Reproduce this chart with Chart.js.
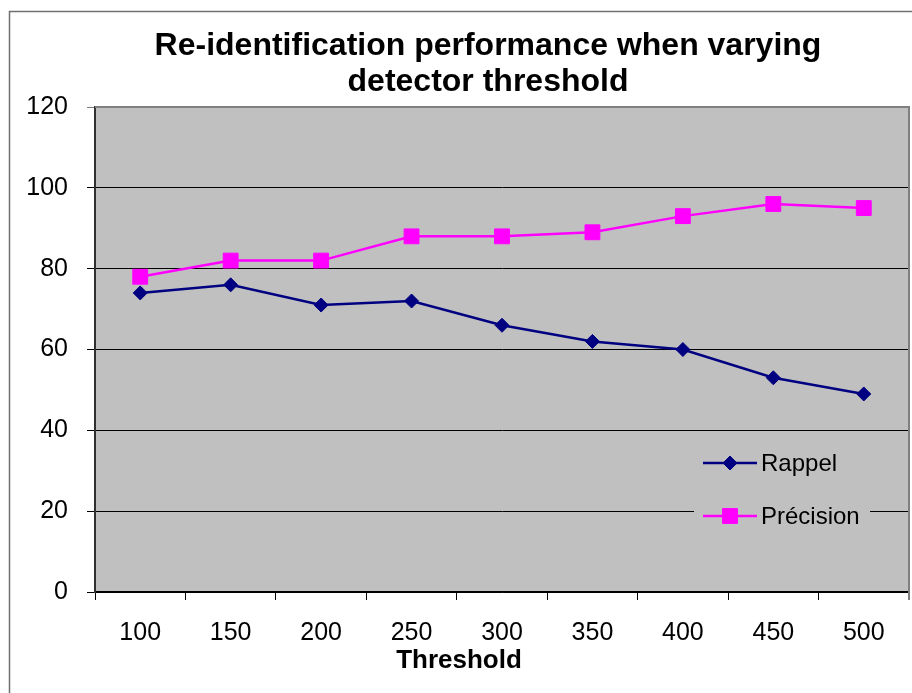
<!DOCTYPE html>
<html>
<head>
<meta charset="utf-8">
<script src="https://cdn.jsdelivr.net/npm/chart.js@4.4.1/dist/chart.umd.min.js"></script>
<style>
  html, body { margin: 0; padding: 0; background: #fff; }
  #wrap { width: 912px; height: 693px; }
</style>
</head>
<body>
<div id="wrap"><canvas id="chart" width="912" height="693"></canvas></div>
<script>
const thresholds = ['100', '150', '200', '250', '300', '350', '400', '450', '500'];
const rappel = [74, 76, 71, 72, 66, 62, 60, 53, 49];
const precision = [78, 82, 82, 88, 88, 89, 93, 96, 95];
const titleLines = ['Re-identification performance when varying', 'detector threshold'];
const xTitle = 'Threshold';

const FONT = "'Liberation Sans', Arial, Helvetica, sans-serif";
const PLOT_BG = '#c0c0c0';

// white page, outer frame, grey plot area
const backdrop = {
  id: 'backdrop',
  beforeDraw(chart) {
    const { ctx, chartArea: a } = chart;
    ctx.save();
    ctx.fillStyle = '#fff';
    ctx.fillRect(0, 0, chart.width, chart.height);
    ctx.strokeStyle = '#707070';
    ctx.lineWidth = 1.5;
    ctx.strokeRect(9.5, 11.5, chart.width + 10, chart.height + 10);
    ctx.fillStyle = PLOT_BG;
    ctx.fillRect(a.left, a.top, a.right - a.left, a.bottom - a.top);
    ctx.restore();
  },
  beforeDatasetsDraw(chart) {
    const { ctx, chartArea: a } = chart;
    ctx.save();
    ctx.strokeStyle = '#808080';
    ctx.lineWidth = 2;
    ctx.beginPath();
    ctx.moveTo(a.left, a.top);
    ctx.lineTo(a.right, a.top);
    ctx.lineTo(a.right, a.bottom + 8);
    ctx.stroke();
    ctx.restore();
  }
};

// titles and legend placed like the original
const texts = {
  id: 'texts',
  afterDraw(chart) {
    const { ctx } = chart;
    ctx.save();
    ctx.fillStyle = '#000';
    ctx.textAlign = 'center';
    ctx.textBaseline = 'middle';
    ctx.font = 'bold 32px ' + FONT;
    titleLines.forEach((t, i) => ctx.fillText(t, 488, 46 + i * 36));
    ctx.font = 'bold 26px ' + FONT;
    ctx.fillText(xTitle, 459, 661);

    // legend
    ctx.fillStyle = PLOT_BG;
    ctx.fillRect(694, 440, 176, 100);
    const rows = [463, 516];
    chart.data.datasets.forEach((ds, i) => {
      const y = rows[i];
      ctx.strokeStyle = ds.borderColor;
      ctx.lineWidth = ds.borderWidth;
      ctx.beginPath();
      ctx.moveTo(703, y);
      ctx.lineTo(757, y);
      ctx.stroke();
      ctx.fillStyle = ds.pointBackgroundColor;
      ctx.strokeStyle = ds.borderColor;
      ctx.lineWidth = 1;
      Chart.helpers.drawPoint(ctx, { pointStyle: ds.pointStyle, radius: ds.pointRadius, rotation: 0, borderWidth: 1 }, 730, y);
      ctx.fillStyle = '#000';
      ctx.font = '24px ' + FONT;
      ctx.textAlign = 'left';
      ctx.fillText(ds.label, 761, y + 1);
    });
    ctx.restore();
  }
};

new Chart(document.getElementById('chart'), {
  type: 'line',
  data: {
    labels: thresholds,
    datasets: [
      {
        label: 'Rappel',
        data: rappel,
        borderColor: '#000080',
        backgroundColor: '#000080',
        pointBackgroundColor: '#000080',
        borderWidth: 2.5,
        pointStyle: 'rectRot',
        pointRadius: 7,
        pointBorderWidth: 1,
        tension: 0
      },
      {
        label: 'Précision',
        data: precision,
        borderColor: '#ff00ff',
        backgroundColor: '#ff00ff',
        pointBackgroundColor: '#ff00ff',
        borderWidth: 2.5,
        pointStyle: 'rect',
        pointRadius: 10.5,
        pointBorderWidth: 1,
        tension: 0
      }
    ]
  },
  options: {
    responsive: false,
    animation: false,
    layout: { autoPadding: false, padding: { top: 107, right: 3, bottom: 0, left: 0 } },
    plugins: {
      legend: { display: false },
      title: { display: false },
      tooltip: { enabled: false }
    },
    scales: {
      x: {
        offset: true,
        afterFit(scale) {
          scale.height = 101;
          scale.paddingLeft = 0;
          scale.paddingRight = 0;
        },
        grid: { offset: true, drawOnChartArea: false, drawTicks: true, tickLength: 8, color: '#000', lineWidth: 1 },
        border: { color: '#000', width: 1.5 },
        ticks: { color: '#000', padding: 18, font: { family: FONT, size: 25 }, maxRotation: 0 }
      },
      y: {
        min: 0,
        max: 120,
        afterFit(scale) { scale.width = 95; },
        grid: {
          color: ctx => (ctx.tick && ctx.tick.value === 120 ? '#808080' : '#000'),
          lineWidth: 1,
          tickLength: 8,
          drawTicks: true
        },
        border: { color: '#303030', width: 2 },
        ticks: { stepSize: 20, color: '#000', padding: 19, font: { family: FONT, size: 25 } }
      }
    }
  },
  plugins: [backdrop, texts]
});
</script>
</body>
</html>
